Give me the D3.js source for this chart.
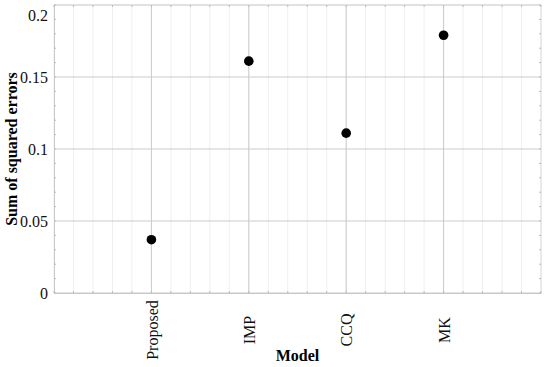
<!DOCTYPE html>
<html>
<head>
<meta charset="utf-8">
<script src="https://cdn.jsdelivr.net/npm/d3@7"></script>
<style>
  body { margin: 0; background: #fff; }
  svg { display: block; }
</style>
</head>
<body>
<svg id="chart"></svg>
<script>
const models = ["Proposed", "IMP", "CCQ", "MK"];
const sse = [0.037, 0.161, 0.111, 0.179];
const yTicks = [0, 0.05, 0.1, 0.15, 0.2];
const yTickLabels = ["0", "0.05", "0.1", "0.15", "0.2"];

const width = 550;
const height = 367;
const margin = { top: 5, left: 54, bottom: 74, right: 9 };
const serif = "'Liberation Serif', 'Times New Roman', serif";

const svg = d3.select("#chart")
  .attr("width", width)
  .attr("height", height);

// x positions 1..4 on a 0..5 axis, like the original plot
const x = d3.scaleLinear()
  .domain([0, models.length + 1])
  .range([margin.left, width - margin.right]);

const y = d3.scaleLinear()
  .domain([0, 0.2])
  .range([height - margin.bottom, margin.top]);

const xMinor = d3.range(0, 5.0001, 0.2).map(v => +v.toFixed(1));
const yMinor = d3.range(0, 0.2001, 0.01).map(v => +v.toFixed(2));

//minor grid
svg.append("g")
  .selectAll("line")
  .data(xMinor)
  .join("line")
    .attr("x1", d => x(d)).attr("x2", d => x(d))
    .attr("y1", y(0)).attr("y2", y(0.2))
    .attr("stroke", "#efefef")
    .attr("stroke-width", 1);

//major grid
svg.append("g")
  .selectAll("line")
  .data(d3.range(1, 5))
  .join("line")
    .attr("x1", d => x(d)).attr("x2", d => x(d))
    .attr("y1", y(0)).attr("y2", y(0.2))
    .attr("stroke", "#cbcbcb");

svg.append("g")
  .selectAll("line")
  .data(yTicks)
  .join("line")
    .attr("x1", x(0)).attr("x2", x(5))
    .attr("y1", d => y(d)).attr("y2", d => y(d))
    .attr("stroke", "#cbcbcb");

//axes
const yAxis = d3.axisLeft(y)
  .tickValues(yTicks)
  .tickFormat((d, i) => yTickLabels[i])
  .tickSize(0)
  .tickPadding(6);

const yg = svg.append("g")
  .attr("transform", `translate(${x(0)},0)`)
  .call(yAxis);
yg.select(".domain").attr("stroke", "#c8c8c8");
yg.selectAll("text")
  .style("font-family", serif)
  .style("font-size", "16px")
  .attr("fill", "#111")
  .attr("dy", (d, i) => i === yTicks.length - 1 ? "0.95em" : "0.32em");

const xAxis = d3.axisBottom(x)
  .tickValues(d3.range(1, 5))
  .tickFormat(d => models[d - 1])
  .tickSize(0);

const xg = svg.append("g")
  .attr("transform", `translate(0,${y(0)})`)
  .call(xAxis);
xg.select(".domain").attr("stroke", "#c8c8c8");
xg.selectAll("text")
  .style("font-family", serif)
  .style("font-size", "16px")
  .attr("fill", "#111")
  .attr("transform", "translate(0,37) rotate(-90)")
  .attr("text-anchor", "middle")
  .attr("dy", "0.35em")
  .attr("y", 0)
  .attr("x", 0);

//top and right border
svg.append("line")
  .attr("x1", x(0)).attr("x2", x(5))
  .attr("y1", y(0.2)).attr("y2", y(0.2))
  .attr("stroke", "#dcdcdc");
svg.append("line")
  .attr("x1", x(5)).attr("x2", x(5))
  .attr("y1", y(0)).attr("y2", y(0.2))
  .attr("stroke", "#dcdcdc");

//minor tick marks
const tickG = svg.append("g").attr("stroke", "#bbb");
tickG.selectAll(".xt")
  .data(xMinor)
  .join("line")
    .attr("x1", d => x(d)).attr("x2", d => x(d))
    .attr("y1", y(0)).attr("y2", y(0) - 2);
tickG.selectAll(".xt2")
  .data(xMinor)
  .join("line")
    .attr("x1", d => x(d)).attr("x2", d => x(d))
    .attr("y1", y(0.2)).attr("y2", y(0.2) + 2);
tickG.selectAll(".yt")
  .data(yMinor)
  .join("line")
    .attr("x1", x(0)).attr("x2", x(0) + 2)
    .attr("y1", d => y(d)).attr("y2", d => y(d));
tickG.selectAll(".yt2")
  .data(yMinor)
  .join("line")
    .attr("x1", x(5)).attr("x2", x(5) - 2)
    .attr("y1", d => y(d)).attr("y2", d => y(d));

//points
svg.append("g")
  .selectAll("circle")
  .data(models)
  .join("circle")
    .attr("cx", (d, i) => x(i + 1))
    .attr("cy", (d, i) => y(sse[i]))
    .attr("r", 4.8)
    .attr("fill", "#000");

//axis titles
svg.append("text")
  .attr("x", (x(0) + x(5)) / 2)
  .attr("y", 361)
  .attr("text-anchor", "middle")
  .style("font-family", serif)
  .style("font-size", "16px")
  .attr("font-weight", "bold")
  .text("Model");

svg.append("text")
  .attr("transform", `translate(17,${(y(0) + y(0.2)) / 2}) rotate(-90)`)
  .attr("text-anchor", "middle")
  .style("font-family", serif)
  .style("font-size", "16px")
  .attr("font-weight", "bold")
  .text("Sum of squared errors");
</script>
</body>
</html>
